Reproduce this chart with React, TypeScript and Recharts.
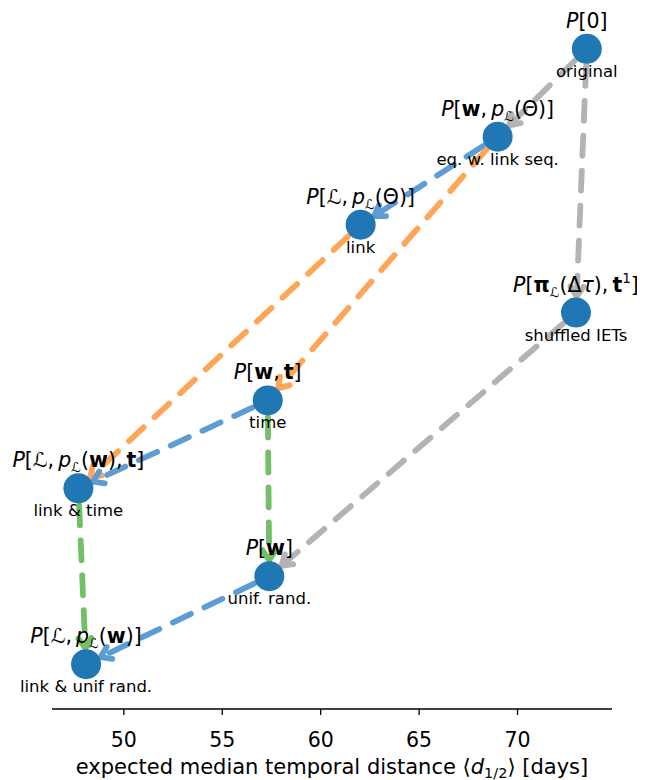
import React from "react";
import { ScatterChart, Scatter, XAxis, YAxis, ReferenceLine } from "recharts";

const FONT = "'DejaVu Sans', sans-serif";

// one entry per null model, top to bottom
const distance = [73.52, 68.99, 62.03, 72.97, 57.31, 47.69, 57.39, 48.08];
const rank = [7, 6, 5, 4, 3, 2, 1, 0];
const subLabels = [
  "original",
  "eq. w. link seq.",
  "link",
  "shuffled IETs",
  "time",
  "link & time",
  "unif. rand.",
  "link & unif rand.",
];

// [text, flags]  i = italic, b = bold, s = subscript, u = superscript
type Seg = [string, string];
const C = ",\u2009";
const mathLabels: Seg[][] = [
  [["P", "i"], ["[0]", ""]],
  [["P", "i"], ["[", ""], ["w", "b"], [C, ""], ["p", "i"], ["ℒ", "s"], ["(Θ)]", ""]],
  [["P", "i"], ["[ℒ" + C, ""], ["p", "i"], ["ℒ", "s"], ["(Θ)]", ""]],
  [["P", "i"], ["[", ""], ["π", "b"], ["ℒ", "s"], ["(Δ", ""], ["τ", "i"], [")" + C, ""], ["t", "b"], ["1", "u"], ["]", ""]],
  [["P", "i"], ["[", ""], ["w", "b"], [C, ""], ["t", "b"], ["]", ""]],
  [["P", "i"], ["[ℒ" + C, ""], ["p", "i"], ["ℒ", "s"], ["(", ""], ["w", "b"], [")" + C, ""], ["t", "b"], ["]", ""]],
  [["P", "i"], ["[", ""], ["w", "b"], ["]", ""]],
  [["P", "i"], ["[ℒ" + C, ""], ["p", "i"], ["ℒ", "s"], ["(", ""], ["w", "b"], [")]", ""]],
];

// arrows between models
const edgeFrom = [0, 0, 3, 1, 2, 1, 4, 4, 5, 6];
const edgeTo = [1, 3, 6, 2, 5, 4, 5, 6, 7, 7];
const edgeKind = ["gray", "gray", "gray", "blue", "orange", "orange", "blue", "green", "green", "blue"];

const xTicks = [50, 55, 60, 65, 70];

const COLORS: Record<string, string> = {
  gray: "#b3b3b3",
  blue: "#5e9dd3",
  orange: "#ffa556",
  green: "#72bf68",
};

const nodes = distance.map((d, i) => ({ x: d, y: rank[i], idx: i }));

const MATH_SIZE = 20.5;

function renderMath(x: number, y: number, segs: Seg[]) {
  let off = 0;
  return (
    <text x={x} y={y} textAnchor="middle" fontFamily={FONT} fontSize={MATH_SIZE} fill="#000">
      {segs.map(([t, f], k) => {
        const target = f.includes("s") ? 5 : f.includes("u") ? -8.5 : 0;
        const dy = target - off;
        off = target;
        return (
          <tspan
            key={k}
            dy={dy}
            fontStyle={f.includes("i") ? "italic" : "normal"}
            fontWeight={f.includes("b") ? "bold" : "normal"}
            fontSize={target !== 0 ? 13.5 : MATH_SIZE}
          >
            {t}
          </tspan>
        );
      })}
    </text>
  );
}

function arrowShape(color: string) {
  return (p: any) => {
    const x1 = Number(p.x1), y1 = Number(p.y1), x2 = Number(p.x2), y2 = Number(p.y2);
    const dx = x2 - x1;
    const dy = y2 - y1;
    const len = Math.hypot(dx, dy) || 1;
    const ux = dx / len;
    const uy = dy / len;
    const sx = x1 + ux * 17;
    const sy = y1 + uy * 17;
    const ex = x2 - ux * 16;
    const ey = y2 - uy * 16;
    const hl = 10;
    const hw = 6.5;
    const bx = ex - ux * hl;
    const by = ey - uy * hl;
    const head = `M${bx - uy * hw},${by + ux * hw} L${ex},${ey} L${bx + uy * hw},${by - ux * hw}`;
    return (
      <g>
        <line
          x1={sx}
          y1={sy}
          x2={ex}
          y2={ey}
          stroke={color}
          strokeWidth={5.8}
          strokeDasharray="20 15"
          strokeLinecap="round"
        />
        <path d={head} fill="none" stroke={color} strokeWidth={5.8} strokeLinecap="round" strokeLinejoin="round" />
      </g>
    );
  };
}

function NodeDot(props: any) {
  const { cx, cy } = props;
  return <circle cx={cx} cy={cy} r={15} fill="#1f77b4" />;
}

function NodeLabel(props: any) {
  const { cx, cy, payload } = props;
  const i = payload.idx;
  return (
    <g>
      {renderMath(cx, cy - 21, mathLabels[i])}
      <text x={cx} y={cy + 28} textAnchor="middle" fontFamily={FONT} fontSize={16.5} fill="#000">
        {subLabels[i]}
      </text>
    </g>
  );
}

function AxisTitle(props: any) {
  const vb = props.viewBox || { x: 52, y: 709, width: 560 };
  const cx = vb.x + vb.width / 2;
  return (
    <text x={cx} y={vb.y + 65} textAnchor="middle" fontFamily={FONT} fontSize={21} fill="#000">
      <tspan>expected median temporal distance ⟨</tspan>
      <tspan fontStyle="italic">d</tspan>
      <tspan dy={4} fontSize={14.5}>1/2</tspan>
      <tspan dy={-4}>⟩ [days]</tspan>
    </text>
  );
}

export default function App() {
  return (
    <div style={{ margin: "-8px 0 0 -8px", width: 645, height: 780 }}>
      <ScatterChart width={645} height={780} margin={{ top: 4, right: 33, left: 52, bottom: 1 }}>
        <XAxis
          type="number"
          dataKey="x"
          domain={[46.35, 74.8]}
          ticks={xTicks}
          height={70}
          axisLine={{ stroke: "#000", strokeWidth: 1.3 }}
          tickLine={{ stroke: "#000", strokeWidth: 1.3 }}
          tickSize={6}
          tickMargin={17}
          tick={{ fontSize: 20.5, fill: "#000", fontFamily: FONT }}
          label={AxisTitle}
        />
        <YAxis type="number" dataKey="y" domain={[-0.51, 7.51]} hide />
        {edgeFrom.map((f, k) => (
          <ReferenceLine
            key={k}
            segment={[
              { x: distance[f], y: rank[f] },
              { x: distance[edgeTo[k]], y: rank[edgeTo[k]] },
            ]}
            ifOverflow="visible"
            shape={arrowShape(COLORS[edgeKind[k]])}
          />
        ))}
        <Scatter data={nodes} shape={NodeDot} isAnimationActive={false} />
        <Scatter data={nodes} shape={NodeLabel} isAnimationActive={false} />
      </ScatterChart>
    </div>
  );
}
